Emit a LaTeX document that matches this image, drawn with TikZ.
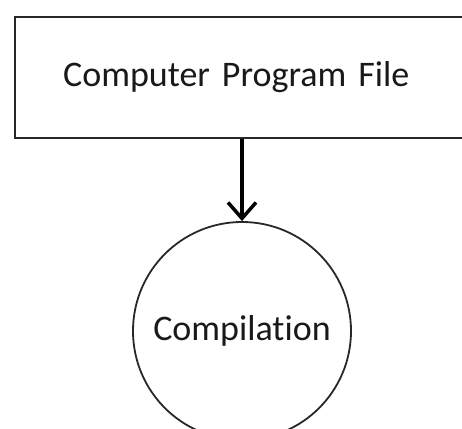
\documentclass[tikz,border=0pt]{standalone}
\usepackage{fontspec}
\setmainfont[Ligatures=NoCommon]{Carlito}
\usepackage{tikz}
\usetikzlibrary{arrows.meta}
\definecolor{line_gray}{RGB}{40,40,40}
\definecolor{text_black}{RGB}{25,25,25}

\begin{document}
\begin{tikzpicture}[x=1pt,y=1pt]
	\useasboundingbox (0,0) rectangle (462,428);
	\clip (0,0) rectangle (462,428);
	\node[draw=line_gray,line width=2.2pt,anchor=north west,minimum height=121pt,text width=384pt,inner xsep=48pt,align=left,font=\fontsize{36}{40}\selectfont,text=text_black] (file) at (14,412) {Computer Program File};
	\node[circle,draw=line_gray,line width=1.8pt,minimum size=218pt,font=\fontsize{36}{40}\selectfont,text=text_black] (compile) at (242,97) {\raisebox{6pt}{Compilation}};
	
	\draw[black,-{Straight Barb[length=16pt,width=28pt]},line width=3.5pt] (file.south -| compile.north) -- (compile.north);
\end{tikzpicture}
\end{document}
